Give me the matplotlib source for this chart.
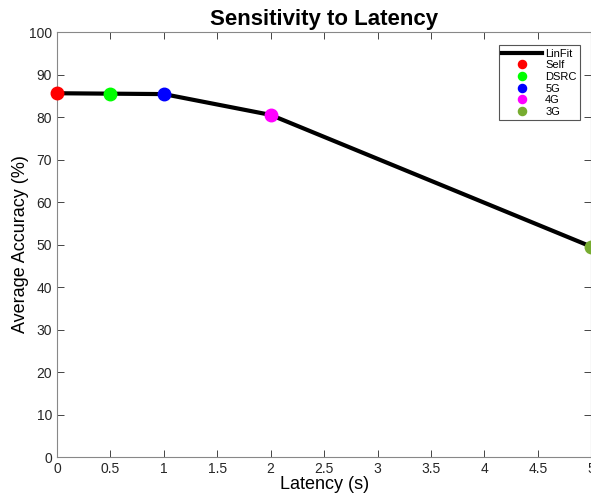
import matplotlib.pyplot as plt

# Datos
latency = [0, 0.5, 1, 2, 5]
accuracy = [85.6, 85.5, 85.4, 80.5, 49.5]
labels = ['Self', 'DSRC', '5G', '4G', '3G']
colors = ['#ff0000', '#00ff00', '#0000ff', '#ff00ff', '#77ac30']

plt.rcParams['font.family'] = ['Liberation Sans', 'DejaVu Sans']

fig = plt.figure(figsize=(5.91, 4.93), dpi=100)
ax = fig.add_axes([0.0964, 0.073, 0.904, 0.862])

ax.plot(latency, accuracy, color='k', linewidth=3, label='LinFit', zorder=2)
for x, y, lab, c in zip(latency, accuracy, labels, colors):
    ax.plot(x, y, 'o', color=c, markersize=9, label=lab, zorder=3, clip_on=False)

ax.set_xlim(0, 5)
ax.set_ylim(0, 100)
ax.set_xticks([0, 0.5, 1, 1.5, 2, 2.5, 3, 3.5, 4, 4.5, 5])
ax.set_xticklabels(['0', '0.5', '1', '1.5', '2', '2.5', '3', '3.5', '4', '4.5', '5'])
ax.set_yticks(range(0, 101, 10))
ax.tick_params(direction='in', top=True, right=True, labelsize=10, colors='#262626',
               length=5, width=0.6)
for s in ax.spines.values():
    s.set_color('#888888')
    s.set_linewidth(0.8)

ax.set_xlabel('Latency (s)', fontsize=13, labelpad=0)
ax.set_ylabel('Average Accuracy (%)', fontsize=13, labelpad=0)
ax.set_title('Sensitivity to Latency', fontsize=16, fontweight='bold', pad=5)

leg = ax.legend(loc='upper right', bbox_to_anchor=(0.979, 0.969), fontsize=8,
                fancybox=False, framealpha=1, edgecolor='#555555',
                handlelength=3.6, labelspacing=0.15, borderpad=0.3,
                handletextpad=0.3, markerscale=0.65, borderaxespad=0)
leg.get_frame().set_linewidth(0.8)

plt.savefig('out.png', dpi=100)
